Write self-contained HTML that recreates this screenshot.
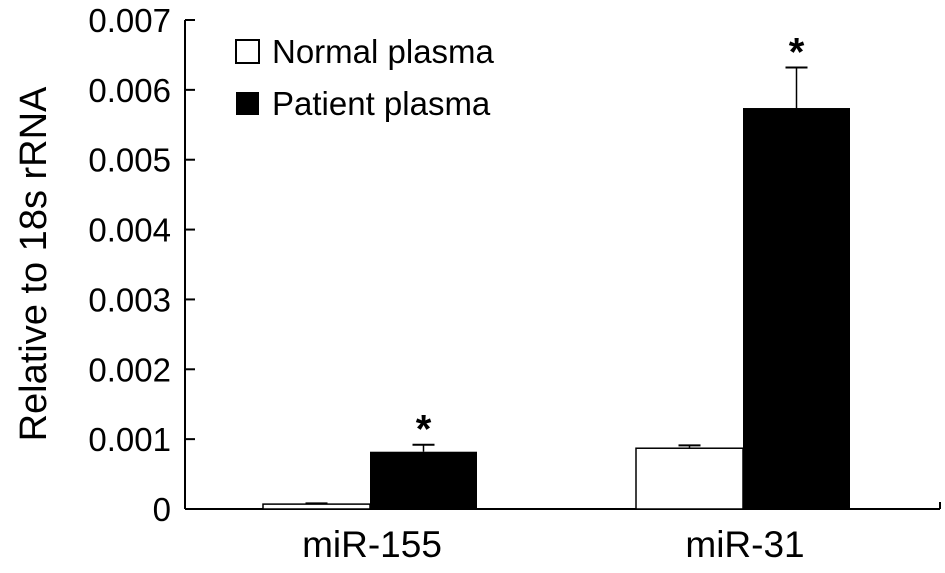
<!DOCTYPE html>
<html><head><meta charset="utf-8"><style>
html,body{margin:0;padding:0;background:#fff;}
svg{display:block;font-family:"Liberation Sans",Arial,sans-serif;}
</style></head><body>
<svg id="chart" width="945" height="573" viewBox="0 0 945 573" xmlns="http://www.w3.org/2000/svg"></svg>
<script>
const categories = ["miR-155", "miR-31"];
const normalValues = [0.00007, 0.00087];
const normalErrors = [0.00001, 0.00004];
const patientValues = [0.00082, 0.00574];
const patientErrors = [0.0001, 0.00058];
const yTicks = [0, 0.001, 0.002, 0.003, 0.004, 0.005, 0.006, 0.007];
const yTickLabels = ["0", "0.001", "0.002", "0.003", "0.004", "0.005", "0.006", "0.007"];
const significant = [true, true];

const NS = "http://www.w3.org/2000/svg";
const svg = document.getElementById("chart");
const x0 = 185, x1 = 940, yBase = 509, yTop = 20, yMax = 0.007;
const y = v => yBase - (v / yMax) * (yBase - yTop);
const barW = 107;
const groupCenter = i => x0 + 185 + i * 373;

function mk(tag, attrs, text) {
  const e = document.createElementNS(NS, tag);
  for (const k in attrs) e.setAttribute(k, attrs[k]);
  if (text !== undefined) e.textContent = text;
  svg.appendChild(e);
  return e;
}

let e = mk("line", {x1: x0, y1: yTop, x2: x0, y2: yBase, stroke: "#000", "stroke-width": 2});


e = mk("line", {x1: x0, y1: yBase, x2: x1, y2: yBase, stroke: "#000", "stroke-width": 2});


e = mk("line", {x1: x1, y1: yBase, x2: x1, y2: yBase - 7, stroke: "#000", "stroke-width": 2});



yTicks.forEach((t, i) => {
  const ty = y(t);
  let l = mk("line", {x1: x0, y1: ty, x2: x0 + 10, y2: ty, stroke: "#000", "stroke-width": 2});
  
  
  let tx = mk("text", {x: 171, y: ty + 12, "text-anchor": "end", "font-size": 33}, yTickLabels[i]);
  
  
});

e = mk("text", {x: 0, y: 0, transform: "translate(46,264) rotate(-90)", "text-anchor": "middle", "font-size": 38}, "Relative to 18s rRNA");



categories.forEach((c, i) => {
  const cx = groupCenter(i);
  const nTop = y(normalValues[i]);
  const nErr = y(normalValues[i] + normalErrors[i]);
  let eb = mk("line", {x1: cx - barW/2, y1: nErr, x2: cx - barW/2, y2: nTop, stroke: "#000", "stroke-width": 1.5});
  
  
  let cap = mk("line", {x1: cx - barW/2 - 11, y1: nErr, x2: cx - barW/2 + 11, y2: nErr, stroke: "#000", "stroke-width": 2});
  
  
  let r = mk("rect", {x: cx - barW, y: nTop, width: barW, height: yBase - nTop, fill: "#fff", stroke: "#000", "stroke-width": 1.5});
  
  
  const pTop = y(patientValues[i]);
  const pErr = y(patientValues[i] + patientErrors[i]);
  eb = mk("line", {x1: cx + barW/2, y1: pErr, x2: cx + barW/2, y2: pTop, stroke: "#000", "stroke-width": 1.5});
  
  
  cap = mk("line", {x1: cx + barW/2 - 11, y1: pErr, x2: cx + barW/2 + 11, y2: pErr, stroke: "#000", "stroke-width": 2});
  
  
  r = mk("rect", {x: cx, y: pTop, width: barW, height: yBase - pTop, fill: "#000"});
  
  
  if (significant[i]) {
    let s = mk("text", {x: cx + barW/2, y: pErr - 2, "text-anchor": "middle", "font-size": 40, "font-weight": "bold"}, "*");
    
    
  }
  let lbl = mk("text", {x: cx + 2, y: 557, "text-anchor": "middle", "font-size": 37}, c);
  
  
});

e = mk("rect", {x: 236, y: 40, width: 23, height: 23, fill: "#fff", stroke: "#000", "stroke-width": 2});


e = mk("text", {x: 272, y: 63, "font-size": 33}, "Normal plasma");


e = mk("rect", {x: 236, y: 92, width: 23, height: 23, fill: "#000"});


e = mk("text", {x: 272, y: 115, "font-size": 33}, "Patient plasma");


</script>
</body></html>
